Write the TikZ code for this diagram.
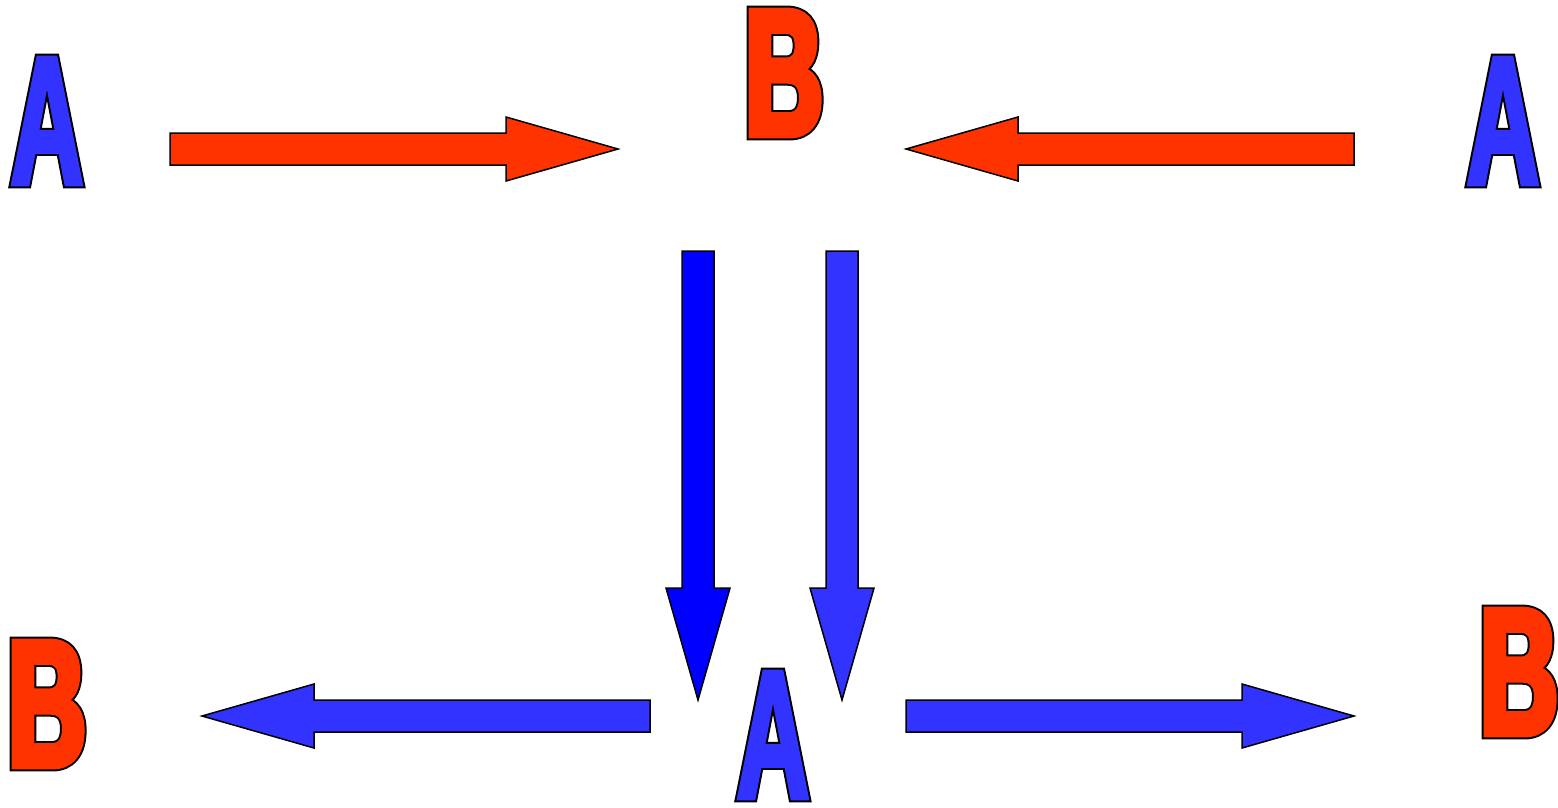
\documentclass[tikz,border=0pt]{standalone}
\usepackage{fontspec}
\usepackage{tikz}
\usetikzlibrary{calc}

\newfontfamily\afont{Liberation Sans}[UprightFont={* Bold}, FakeStretch=0.55]
\newfontfamily\bfont{Liberation Sans}[UprightFont={* Bold}, FakeStretch=0.6]
\definecolor{redfill}{HTML}{FF3300}
\definecolor{bluefill}{HTML}{3333FF}
\definecolor{deepblue}{HTML}{0000FF}

% letter stroked and filled in one colour, pen width #2
\newcommand{\heavy}[3]{{\color{#1}\special{pdf:literal direct 2 Tr #2 w 0 j 1.6 M}#3\special{pdf:literal direct 0 Tr}}}
% thick letter with a black outline
\newcommand{\outlinedA}[2]{\rlap{\heavy{black}{8}{#2}}\heavy{#1}{4}{#2}}
\newcommand{\outlinedB}[2]{\rlap{\heavy{black}{11}{#2}}\heavy{#1}{7}{#2}}

% block arrow from #2 to #3, filled with #1
\newcommand{\blockarrow}[3]{%
	\coordinate (hb) at ($(#3)!112pt!(#2)$);
	\draw[blockline, fill=#1]
	($(#2)!16pt!90:(#3)$) -- ($(hb)!16pt!90:(#3)$) -- ($(hb)!32pt!90:(#3)$)
	-- (#3) -- ($(hb)!32pt!-90:(#3)$) -- ($(hb)!16pt!-90:(#3)$)
	-- ($(#2)!16pt!-90:(#3)$) -- cycle;
}

\tikzset{
	letterA/.style={inner sep=0pt, font=\afont\fontsize{184}{184}\selectfont},
	letterB/.style={inner sep=0pt, font=\bfont\fontsize{180}{180}\selectfont},
	blockline/.style={draw=black, line width=1.5pt, line join=miter},
}

\begin{document}
\begin{tikzpicture}[x=1pt,y=-1pt]
	\useasboundingbox (0,0) rectangle (1558,807);
	\node[letterA] (aleft) at (47,121) {\outlinedA{bluefill}{A}};
	\node[letterB] (btop) at (784,73) {\outlinedB{redfill}{B}};
	\node[letterA] (aright) at (1503,121) {\outlinedA{bluefill}{A}};
	\node[letterB] (bleft) at (47,704) {\outlinedB{redfill}{B}};
	\node[letterA] (abottom) at (773,735) {\outlinedA{bluefill}{A}};
	\node[letterB] (bright) at (1519,672) {\outlinedB{redfill}{B}};
	
	\coordinate (r1s) at (170,149);
	\coordinate (r1t) at (618,149);
	\coordinate (r2s) at (1354,149);
	\coordinate (r2t) at (906,149);
	\coordinate (d1s) at (698,251);
	\coordinate (d1t) at (698,700);
	\coordinate (d2s) at (842,251);
	\coordinate (d2t) at (842,700);
	\coordinate (b1s) at (650,716);
	\coordinate (b1t) at (202,716);
	\coordinate (b2s) at (906,716);
	\coordinate (b2t) at (1354,716);
	
	\blockarrow{redfill}{r1s}{r1t}
	\blockarrow{redfill}{r2s}{r2t}
	\blockarrow{deepblue}{d1s}{d1t}
	\blockarrow{bluefill}{d2s}{d2t}
	\blockarrow{bluefill}{b1s}{b1t}
	\blockarrow{bluefill}{b2s}{b2t}
\end{tikzpicture}
\end{document}
